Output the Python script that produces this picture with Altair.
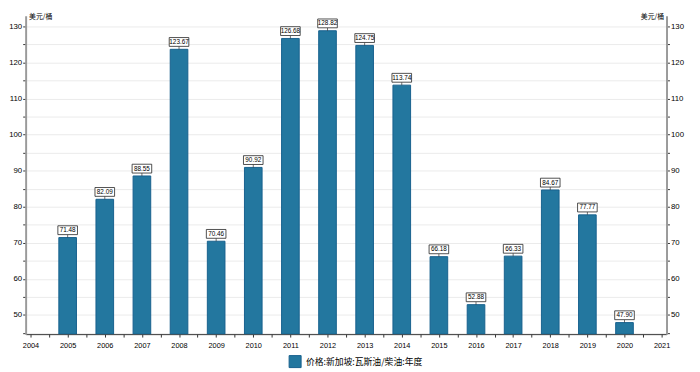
import altair as alt
import pandas as pd

years = [2005, 2006, 2007, 2008, 2009, 2010, 2011, 2012, 2013, 2014, 2015, 2016, 2017, 2018, 2019, 2020]
values = [71.48, 82.09, 88.55, 123.67, 70.46, 90.92, 126.68, 128.82, 124.75, 113.74, 66.18, 52.88, 66.33, 84.67, 77.77, 47.9]
labels = ["71.48", "82.09", "88.55", "123.67", "70.46", "90.92", "126.68", "128.82", "124.75", "113.74",
          "66.18", "52.88", "66.33", "84.67", "77.77", "47.90"]
series_name = "价格:新加坡:瓦斯油/柴油:年度"
unit = "美元/桶"

df = pd.DataFrame({"year": years, "value": values, "label": labels, "series": [series_name] * len(years)})

Y_MIN, Y_MAX = 44.7, 133.0
yscale = alt.Scale(domain=[Y_MIN, Y_MAX], nice=False, zero=False)
xscale = alt.Scale(domain=[2004, 2021], nice=False, zero=False)

FONT = "Liberation Sans"
CJK = "Noto Sans CJK SC"

x_axis = alt.Axis(
    values=[2004 + 0.5 * i for i in range(35)],
    labelExpr="(datum.value * 2) % 2 == 0 ? format(datum.value, 'd') : ''",
    labelOverlap=False, labelFlush=False, labelBound=False,
    title=None, grid=False, tickSize=3, tickColor="#333", domainColor="#333",
    labelFontSize=7.5, labelFont=FONT, labelColor="#000", labelPadding=5,
)

def y_axis(orient, grid):
    return alt.Axis(
        orient=orient, values=[45 + 5 * i for i in range(18)],
        labelExpr="datum.value % 10 == 0 ? format(datum.value, 'd') : ''",
        labelOverlap=False,
        grid=grid, gridColor="#ebebeb", tickSize=3, tickColor="#333",
        domainColor="#9a9a9a", domainWidth=2,
        labelFontSize=8, labelFont=FONT, labelColor="#000", labelPadding=1,
        title=unit, titleAngle=0, titleFont=CJK, titleFontSize=7, titleFontWeight="normal",
        titleAlign="left" if orient == "left" else "right", titleBaseline="middle",
        titleX=3 if orient == "left" else -3, titleY=1,
    )

X = alt.X("year:Q", scale=xscale, axis=x_axis)
base = alt.Chart(df)

bars = base.mark_bar(width=18, stroke="#17608d", strokeWidth=1, clip=True).encode(
    x=X,
    y=alt.Y("value:Q", scale=yscale, axis=y_axis("left", True)),
    y2=alt.datum(Y_MIN),
    color=alt.Color("series:N", scale=alt.Scale(range=["#23779f"]),
                    legend=alt.Legend(orient="none", legendX=268, legendY=346, title=None,
                                      symbolType="square", symbolSize=150,
                                      symbolStrokeColor="#17608d", symbolStrokeWidth=1,
                                      labelFont=CJK, labelFontSize=9, labelColor="#000")),
)

right = base.mark_point(opacity=0).encode(
    x=X,
    y=alt.Y("value:Q", scale=yscale, axis=y_axis("right", False)),
)

connector = base.mark_tick(orient="vertical", size=3, thickness=1, color="#333", yOffset=-1.5).encode(
    x=X,
    y=alt.Y("value:Q", scale=yscale, axis=None),
)

boxes = base.mark_point(shape="M-1,-0.45 H1 V0.45 H-1 Z", size=400, filled=True, fill="white",
                        stroke="#222", strokeWidth=0.8, opacity=1, yOffset=-7.5).encode(
    x=X,
    y=alt.Y("value:Q", scale=yscale, axis=None),
)

texts = base.mark_text(font=FONT, fontSize=6.5, color="#000", baseline="middle", yOffset=-7.5).encode(
    x=X,
    y=alt.Y("value:Q", scale=yscale, axis=None),
    text="label:N",
)

chart = alt.layer(bars, right, connector, boxes, texts).resolve_axis(y="independent").properties(
    width=654, height=325,
    autosize=alt.AutoSizeParams(type="none"),
    padding={"left": 18, "top": 4, "right": 26, "bottom": 44},
    background="white",
).configure_view(stroke=None)

chart.save("out.html", embed_options={"renderer": "svg", "actions": False})
